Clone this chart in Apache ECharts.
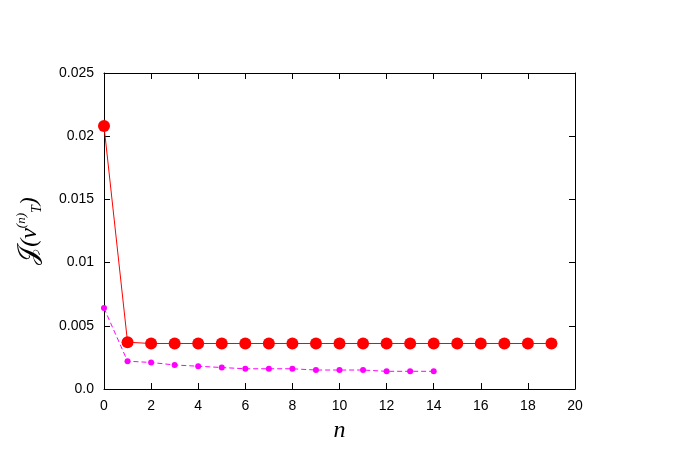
<!DOCTYPE html>
<html>
<head>
<meta charset="utf-8">
<script src="https://cdn.jsdelivr.net/npm/echarts@6/dist/echarts.min.js"></script>
<style>html,body{margin:0;padding:0;background:#fff}#c{width:687px;height:460px}</style>
</head>
<body>
<div id="c"></div>
<script>
var nRed = [0,1,2,3,4,5,6,7,8,9,10,11,12,13,14,15,16,17,18,19];
var redVals = [0.0208,0.0037,0.0036,0.0036,0.0036,0.0036,0.0036,0.0036,0.0036,0.0036,0.0036,0.0036,0.0036,0.0036,0.0036,0.0036,0.0036,0.0036,0.0036,0.0036];
var nMag = [0,1,2,3,4,5,6,7,8,9,10,11,12,13,14];
var magVals = [0.0064,0.0022,0.0021,0.0019,0.0018,0.0017,0.0016,0.0016,0.0016,0.0015,0.0015,0.0015,0.0014,0.0014,0.0014];

function pairs(xs, ys) { return xs.map(function (x, i) { return [x, ys[i]]; }); }

var chart = echarts.init(document.getElementById('c'));
var axisLine = {show: true, onZero: false, lineStyle: {color: '#000', width: 1}};
var tick = {show: true, inside: true, length: 6, lineStyle: {color: '#000'}};
var lbl = {color: '#000', fontFamily: 'Liberation Sans', fontSize: 14};
chart.setOption({
  animation: false,
  grid: {left: 104, right: 112, top: 73, bottom: 71},
  xAxis: [
    {type: 'value', min: 0, max: 20, interval: 2, axisLine: axisLine, axisTick: tick, axisLabel: Object.assign({margin: 10}, lbl), splitLine: {show: false},
     name: 'n', nameLocation: 'middle', nameGap: 30, nameTextStyle: {fontFamily: 'Liberation Serif', fontStyle: 'italic', fontSize: 24, color: '#000'}},
    {type: 'value', position: 'top', min: 0, max: 20, interval: 2, axisLine: axisLine, axisTick: tick, axisLabel: {show: false}, splitLine: {show: false}}
  ],
  yAxis: [
    {type: 'value', min: 0, max: 0.025, interval: 0.005, axisLine: axisLine, axisTick: tick, splitLine: {show: false},
     axisLabel: Object.assign({margin: 10, formatter: function (v) { return v === 0 ? '0.0' : String(+v.toFixed(3)); }}, lbl),
     name: '{j|𝒥}{p|(ν}{sup|(n)}{s|T}{p|)}', nameLocation: 'middle', nameGap: 60, nameRotate: 90,
     nameTextStyle: {rich: {
       j: {fontFamily: 'DejaVu Serif', fontSize: 26, color: '#000'},
       p: {fontFamily: 'Liberation Serif', fontStyle: 'italic', fontSize: 24, color: '#000'},
       s: {fontFamily: 'Liberation Serif', fontStyle: 'italic', fontSize: 14, color: '#000', verticalAlign: 'bottom', padding: [14, 0, 0, 0]},
       sup: {fontFamily: 'Liberation Serif', fontStyle: 'italic', fontSize: 13, color: '#000', verticalAlign: 'top', padding: [0, 0, 16, 0]}
     }}},
    {type: 'value', position: 'right', min: 0, max: 0.025, interval: 0.005, axisLine: axisLine, axisTick: tick, axisLabel: {show: false}, splitLine: {show: false}}
  ],
  series: [
    {type: 'line', data: pairs(nRed, redVals), symbol: 'circle', symbolSize: 12,
     lineStyle: {color: '#ff0000', width: 1}, itemStyle: {color: '#ff0000'}, z: 3},
    {type: 'line', data: pairs(nMag, magVals), symbol: 'circle', symbolSize: 6,
     lineStyle: {color: '#ff00ff', width: 1, type: [5, 3]}, itemStyle: {color: '#ff00ff'}, z: 2}
  ]
});
</script>
</body>
</html>
